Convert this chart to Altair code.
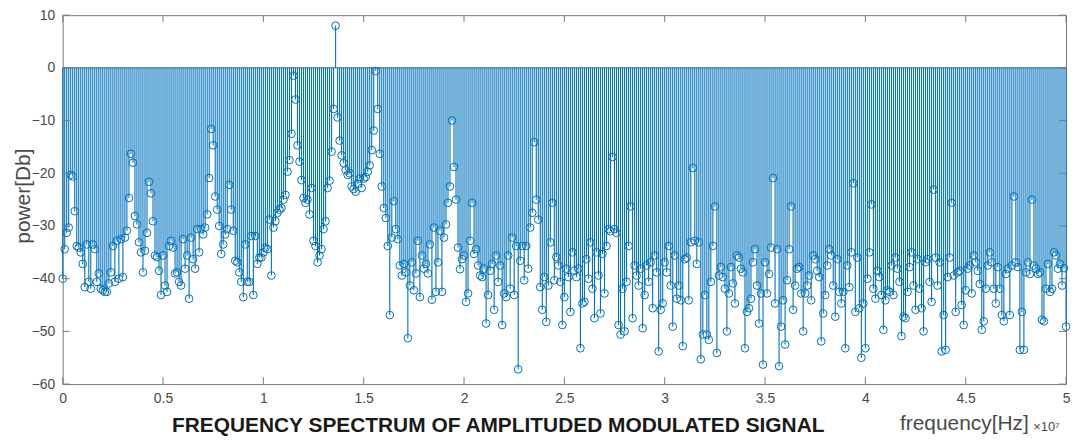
import altair as alt
import pandas as pd

# ---- data: power spectrum in dB, one value per 1e5 Hz bin (0 .. 5e7 Hz) ----
power_0_to_06 = [
    -40, -34.4, -31.3, -30.3, -20.3, -20.6, -27.2, -33.8, -34.1, -35,
    -37.2, -41.6, -33.5, -40.6, -41.9, -33.5, -34.4, -40.6, -39, -41.9,
    -42.2, -42.5, -42.5, -40.9, -38.8, -33.8, -40.6, -32.8, -40, -32.5,
    -39.7, -32.2, -30.9, -24.7, -16.3, -18, -28.1, -29.7, -33.1, -35,
    -38.8, -34.7, -31.3, -21.6, -23.8, -29.1, -35.6, -35.9, -38.5, -43.1,
    -35.6, -41.3, -42.5, -33.8, -32.8, -34.1, -39, -38.8, -40.6, -41.3,
    -32.5,
]
power_06_to_115 = [
    -38.1, -35.6, -43.8, -32.2, -36.3, -38.1, -30.6, -35, -30.6,
    -31.6, -30.3, -27.8, -20.9, -11.6, -14.7, -24.4, -26.9, -30, -35.3,
    -33.5, -31.6, -30.6, -22.2, -26.9, -30.9, -36.6, -36.9, -38.8, -40.6,
    -43.5, -33.5, -40.6, -40.6, -31.9, -43.1, -31.9, -37.2, -36, -36,
    -35, -34.1, -34.4, -28.8, -39.4, -30.3, -29.1, -27.5, -26.9, -26.6,
    -25, -24.1, -19.7, -17.5, -12.5, -1.5,
]
power_116_to_156 = [
    -6, -14.7, -17.8, -21.3, -24.7, -25.6, -25, -27.8, -22.8, -32.8,
    -33.8, -36.9, -35.6, -34.4, -30.6, -29.1, -22.8, -21.4, -15.9, -7.8,
    8,
    -9.4, -13.8, -16.6, -18.1, -19.4, -20.3, -20, -22.5, -23, -23.5,
    -22, -21, -22.8, -21, -20.7, -19.7, -18.5, -15.6, -11.9, -0.6,
]
power_157_to_247 = [
    -7.8, -16.3, -22.5, -26.6, -28.5, -33.8, -46.9, -32.2, -25.3, -30.6,
    -32.5, -37.5, -39.4, -37.2, -38.8, -51.3, -41.3, -36.9, -42.2, -39,
    -32.8, -43.5, -35.6, -38.1, -37.2, -39, -33.5, -44, -30.3, -42.5,
    -36.9, -30.9, -42.5, -32.2, -29.7, -25.6, -22.5, -10,
    -18.8, -25, -34.1, -38.2, -36.3,
    -35.6, -44.4, -42.8, -32.8, -25.6, -35.3, -34.4, -37.5, -39.4, -39.7,
    -38.1, -48.5, -43.1, -38.5, -37.2, -45.9, -35.6, -40.6, -37.5, -48.8,
    -42.8, -43.5, -35.6, -41.9, -32.2, -43.1, -33.8, -57.2,
    -36.6, -33.8, -40.3, -33.8, -38.1, -30.3, -27.5, -14.1, -25, -28.8,
    -41.6, -45.9, -39.7, -48.2, -41.3, -33.1, -25.6, -40.3, -35.9, -37.5,
]
power_248_to_306 = [
    -40.6, -48.8,
    -43.5, -38.1, -39.7, -46.3, -35, -38.5, -39.7, -38.1, -53.2, -44.7,
    -44.4, -36.3, -40, -33.1, -41.9, -47.5, -35, -39.4, -46.6, -35.3,
    -42.8, -33.8, -30.6, -31, -16.9,
    -30.6, -31.3, -48.8, -50.6, -41.9,
    -50, -40.6, -33.8, -26.3, -47.5, -37.5, -39.4, -41.3, -38.1, -49.4,
    -43.1, -37.5, -40.6, -36.9, -45.6, -35.6, -38.8, -53.8, -45.9, -44.7,
    -36.9, -38.8, -33.8, -41.3, -49.1, -35.6, -43.8,
]
power_307_to_369 = [
    -41.3, -44.1, -52.8,
    -36.3, -36, -44.1, -33.1, -19, -32.8, -37.2, -33.1, -55.3, -50.6,
    -43.1, -50.6, -51.6, -40.6, -33.8, -26.3, -54.1, -39.4, -37.8, -39.7,
    -41.9, -50, -42.8, -37.8, -40.9, -44.7, -35.6, -36, -38.1, -38.8,
    -53.2, -46.3, -45.6, -43.8, -36.9, -34.4, -41.3, -48.5, -42.8, -56.3,
    -36.9, -42.8, -39.1, -34.1, -20.9,
    -44.7, -34.4, -56.6, -49.1, -44.1,
    -52.5, -40.3, -34.4, -26.3, -45.9, -41.3, -38.1, -37.8, -42.8, -50,
]
power_370_to_430 = [
    -42.8, -41.3, -39.4, -44.1, -35.6, -36.3, -38.5, -39.7, -51.9, -46.6,
    -43.1, -37.5, -34.4, -35.6, -41.3, -47.2, -36.3, -42.5, -44.7, -42.5,
    -53.2, -37.5, -41.6, -35, -21.9,
    -46.3, -36, -45.6, -55, -44.7,
    -53.2, -40, -35, -25.9,
    -41.9, -43.8, -38.5, -39.7, -43.1, -49.7,
    -44.1, -42.2, -42.5, -37.5, -43.1, -36, -38.1, -40.6, -50.9, -47.2,
    -47.5, -42.5, -37.8, -35, -41.3, -45.9, -36.3, -41.9, -45.6, -50,
    -36.9,
]
power_431_to_500 = [
    -36.3, -40.6, -44.4, -23.1, -36, -41.3, -36.9, -53.8, -46.9,
    -53.5, -39.7, -36, -25.6,
    -39.4, -46.3, -38.8, -38.5, -45, -48.8,
    -42.2, -38.1, -37.5, -42.8, -35.6, -36.9, -38.5, -41, -49.7, -48.1,
    -41.9, -37.5, -35, -36.9, -41.9, -44.7, -37.8, -41.9, -46.9, -48.1,
    -39.1, -38.1, -46.9, -37.5, -24.4,
    -36.9, -37.8, -53.5, -46.3, -53.5, -38.8, -36.9, -39.1, -25,
    -37.5, -38.1, -39.1, -38.8, -47.8, -48.1,
    -41.9, -37.2, -42.5, -41.9, -35, -35.6, -38.1, -37.2, -41.3, -38, -49.1,
]

power = (power_0_to_06 + power_06_to_115 + power_116_to_156 + power_157_to_247
         + power_248_to_306 + power_307_to_369 + power_370_to_430 + power_431_to_500)
freq_bin_hz = 1e5
freq = [i * freq_bin_hz for i in range(len(power))]

x_tick_values = [0, 5e6, 1e7, 1.5e7, 2e7, 2.5e7, 3e7, 3.5e7, 4e7, 4.5e7, 5e7]
y_tick_values = [-60, -50, -40, -30, -20, -10, 0, 10]

title_text = "FREQUENCY SPECTRUM OF AMPLITUDED MODULATED SIGNAL"
x_label = "frequency[Hz]"
x_exponent = "×10⁷"
y_label = "power[Db]"

# ---- styling ----
W, H = 1009, 371
BLUE = "#0072BD"
FRAME = "#7a7a7a"
LABEL = "#4a4a4a"
FONT = "Liberation Sans"
TICK = 7

df = pd.DataFrame({"freq": freq, "power": power})
xscale = alt.Scale(domain=[0, 5e7], nice=False, zero=False)
yscale = alt.Scale(domain=[-60, 10], nice=False, zero=False)

xaxis = alt.Axis(values=x_tick_values, labelExpr="datum.value / 10000000",
                 ticks=False, domain=False, grid=False, title=None,
                 labelPadding=8, labelFontSize=14, labelColor=LABEL, labelFont=FONT,
                 labelFlush=False)
yaxis = alt.Axis(values=y_tick_values, ticks=False, domain=False, grid=False, title=None,
                 labelPadding=8, labelFontSize=14, labelColor=LABEL, labelFont=FONT,
                 labelFlush=False)

X = lambda f: alt.X(f, scale=xscale, axis=xaxis)
Y = lambda f: alt.Y(f, scale=yscale, axis=yaxis)

stems = alt.Chart(df).mark_rule(color=BLUE, strokeWidth=1.1).encode(
    x=X("freq:Q"), y=Y("power:Q"), y2=alt.datum(0),
)

baseline = alt.Chart(pd.DataFrame({"b": [0]})).mark_rule(color="#3b5770", strokeWidth=1).encode(
    y=Y("b:Q"),
)

circles = alt.Chart(df).mark_point(shape="circle", filled=False, size=60,
                                   strokeWidth=1, color=BLUE, opacity=1).encode(
    x=X("freq:Q"), y=Y("power:Q"),
)

xt = pd.DataFrame({"t": x_tick_values})
yt = pd.DataFrame({"t": y_tick_values})
tick_style = dict(color=FRAME, strokeWidth=1)
ticks_bottom = alt.Chart(xt).mark_rule(**tick_style).encode(
    x=X("t:Q"), y=alt.value(H - TICK), y2=alt.value(H))
ticks_top = alt.Chart(xt).mark_rule(**tick_style).encode(
    x=X("t:Q"), y=alt.value(0), y2=alt.value(TICK))
ticks_left = alt.Chart(yt).mark_rule(**tick_style).encode(
    y=Y("t:Q"), x=alt.value(0), x2=alt.value(TICK))
ticks_right = alt.Chart(yt).mark_rule(**tick_style).encode(
    y=Y("t:Q"), x=alt.value(W - TICK), x2=alt.value(W))

title = alt.Chart(pd.DataFrame({"s": [title_text]})).mark_text(
    font=FONT, fontSize=21, fontWeight="bold", color="#1a1a1a",
    align="center", baseline="alphabetic").encode(
    text="s:N", x=alt.value(438), y=alt.value(419))

xlab = alt.Chart(pd.DataFrame({"s": [x_label]})).mark_text(
    font=FONT, fontSize=21, color=LABEL, align="left", baseline="alphabetic").encode(
    text="s:N", x=alt.value(842), y=alt.value(417))

xexp = alt.Chart(pd.DataFrame({"s": [x_exponent]})).mark_text(
    font=FONT, fontSize=13, color=LABEL, align="left", baseline="alphabetic").encode(
    text="s:N", x=alt.value(976), y=alt.value(418))

ylab = alt.Chart(pd.DataFrame({"s": [y_label]})).mark_text(
    font=FONT, fontSize=21, color=LABEL, align="center", baseline="middle", angle=270).encode(
    text="s:N", x=alt.value(-39), y=alt.value(182))

chart = alt.layer(
    stems, baseline, circles,
    ticks_bottom, ticks_top, ticks_left, ticks_right,
    title, xlab, xexp, ylab,
).properties(
    width=W, height=H,
    autosize=alt.AutoSizeParams(type="none"),
    padding={"left": 55, "top": 6, "right": 6, "bottom": 52},
    background="white",
).configure_view(stroke=FRAME, strokeWidth=1)

chart.save("out.html", embed_options={"renderer": "svg", "actions": False})
